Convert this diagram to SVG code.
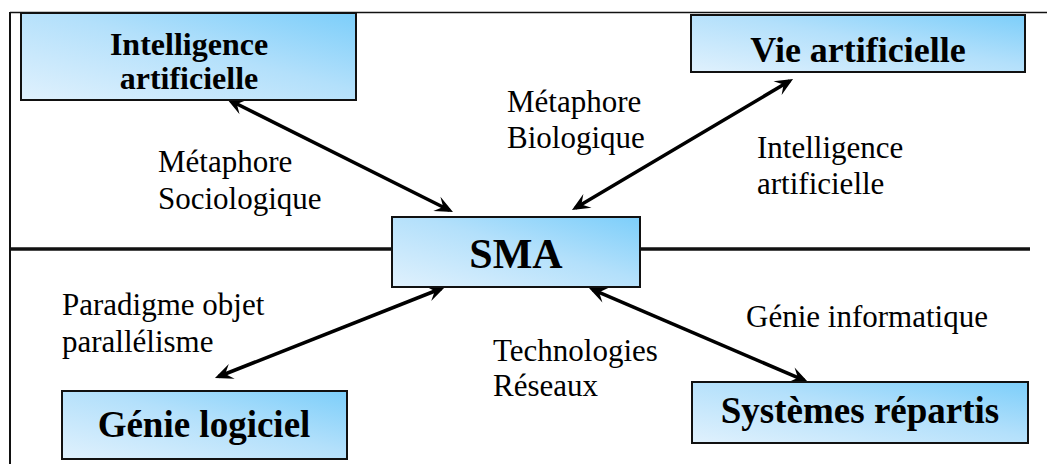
<svg xmlns="http://www.w3.org/2000/svg" width="1047" height="464" viewBox="0 0 1047 464">
  <defs>
    <linearGradient id="boxFill" x1="0" y1="1" x2="1" y2="0">
      <stop offset="0" stop-color="#e0f1fd"/>
      <stop offset="0.55" stop-color="#b3e0fb"/>
      <stop offset="1" stop-color="#7ccefa"/>
    </linearGradient>
    <marker id="head" markerUnits="userSpaceOnUse" markerWidth="24" markerHeight="24"
            refX="12" refY="0" orient="auto-start-reverse" overflow="visible">
      <path d="M16,0 L-2,-8 L5,0 L-2,8 Z" fill="#000"/>
    </marker>
    <style>
      .box { fill: url(#boxFill); stroke: #111; stroke-width: 2; }
      .title { font-family: "Liberation Serif", "Times New Roman", serif; font-weight: bold; fill: #000; text-anchor: middle; }
      .label { font-family: "Liberation Serif", "Times New Roman", serif; font-size: 31px; fill: #000; }
      .frame { stroke: #111; fill: none; }
      .link { stroke: #000; stroke-width: 3.5; fill: none; marker-start: url(#head); marker-end: url(#head); }
    </style>
  </defs>

  <!-- frame lines -->
  <g id="frame">
    <line class="frame" x1="10" y1="12.5" x2="1047" y2="12.5" stroke-width="1.6"/>
    <line class="frame" x1="10" y1="12" x2="10" y2="464" stroke-width="2"/>
    <line class="frame" x1="10" y1="249" x2="392" y2="249" stroke-width="3.5"/>
    <line class="frame" x1="640" y1="249" x2="1030" y2="249" stroke-width="3.5"/>
  </g>

  <!-- connectors -->
  <g id="connectors">
    <line class="link" x1="230.6" y1="100.8" x2="449.4" y2="210.2"/>
    <line class="link" x1="789.6" y1="81.0" x2="575.4" y2="208.0"/>
    <line class="link" x1="441.3" y1="288.5" x2="218.7" y2="376.5"/>
    <line class="link" x1="592.7" y1="289.6" x2="804.3" y2="380.4"/>
  </g>

  <g id="node-ia">
    <rect class="box" x="21" y="13" width="335" height="87"/>
    <text class="title" x="189" y="55" font-size="32">Intelligence</text>
    <text class="title" x="189" y="89" font-size="32">artificielle</text>
  </g>

  <g id="node-vie">
    <rect class="box" x="691" y="15" width="334" height="57"/>
    <text class="title" x="858" y="62" font-size="36">Vie artificielle</text>
  </g>

  <g id="node-sma">
    <rect class="box" x="392" y="217" width="248" height="70"/>
    <text class="title" x="516" y="268" font-size="42">SMA</text>
  </g>

  <g id="node-gl">
    <rect class="box" x="62" y="391" width="285" height="68"/>
    <text class="title" x="204" y="437" font-size="37">Génie logiciel</text>
  </g>

  <g id="node-sr">
    <rect class="box" x="692" y="382" width="336" height="61"/>
    <text class="title" x="860" y="423" font-size="37">Systèmes répartis</text>
  </g>

  <!-- edge labels -->
  <g id="labels">
    <text class="label" x="158" y="172">Métaphore</text>
    <text class="label" x="158" y="209">Sociologique</text>
    <text class="label" x="507" y="112">Métaphore</text>
    <text class="label" x="507" y="148">Biologique</text>
    <text class="label" x="757" y="158">Intelligence</text>
    <text class="label" x="757" y="194">artificielle</text>
    <text class="label" x="62" y="315">Paradigme objet</text>
    <text class="label" x="62" y="352">parallélisme</text>
    <text class="label" x="493" y="361">Technologies</text>
    <text class="label" x="493" y="396">Réseaux</text>
    <text class="label" x="746" y="327">Génie informatique</text>
  </g>
</svg>
